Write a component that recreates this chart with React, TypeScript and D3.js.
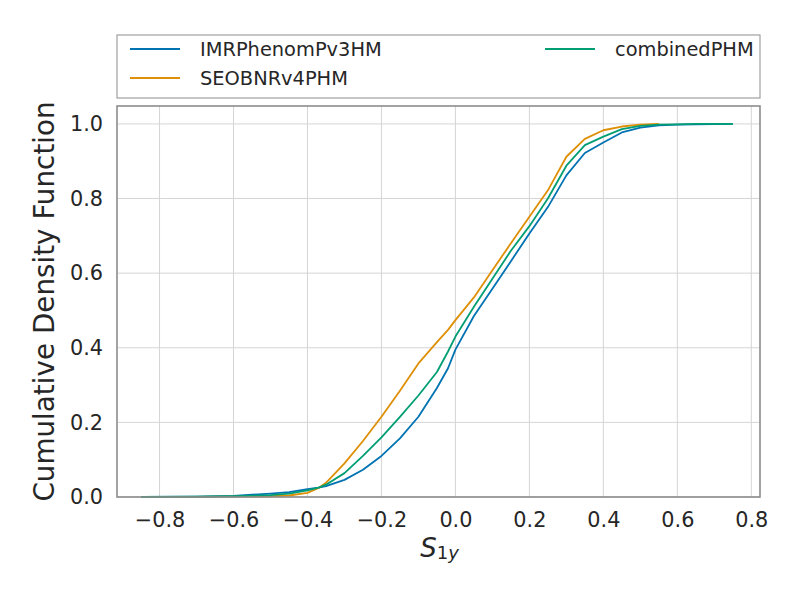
import React, { useEffect, useRef } from "react";
import * as d3 from "d3";

const xs = [
  -0.85, -0.7, -0.6, -0.5, -0.45, -0.4, -0.37, -0.35, -0.3, -0.25, -0.2, -0.15,
  -0.1, -0.05, -0.02, 0.0, 0.05, 0.1, 0.15, 0.2, 0.25, 0.3, 0.35, 0.4, 0.45,
  0.5, 0.55, 0.6, 0.65, 0.75,
];

const imrPhenom = [
  0, 0.001, 0.003, 0.009, 0.013, 0.021, 0.025, 0.029, 0.046, 0.073, 0.11, 0.157,
  0.215, 0.292, 0.345, 0.395, 0.485, 0.558, 0.632, 0.706, 0.777, 0.862, 0.922, 0.95, 0.977,
  0.99, 0.996, 0.998, 0.999, 1.0,
];

const combined = [
  0, 0.001, 0.002, 0.005, 0.009, 0.018, 0.025, 0.033, 0.064, 0.11, 0.16, 0.215,
  0.272, 0.335, 0.39, 0.43, 0.51, 0.585, 0.66, 0.726, 0.8, 0.888, 0.943, 0.966, 0.986,
  0.995, 0.998, 0.999, 1.0, 1.0,
];

// SEOBNR stops earlier, so it only uses the first 27 grid points
const seobnr = [
  0, 0.0005, 0.001, 0.002, 0.004, 0.011, 0.024, 0.038, 0.09, 0.15, 0.215, 0.285,
  0.358, 0.415, 0.448, 0.474, 0.535, 0.608, 0.68, 0.751, 0.822, 0.912, 0.96, 0.983, 0.993,
  0.998, 1.0,
];

const series = [
  { name: "IMRPhenomPv3HM", color: "#0173b2", values: imrPhenom },
  { name: "SEOBNRv4PHM", color: "#de8f05", values: seobnr },
  { name: "combinedPHM", color: "#029e73", values: combined },
];

const xTicks = [-0.8, -0.6, -0.4, -0.2, 0.0, 0.2, 0.4, 0.6, 0.8];
const yTicks = [0.0, 0.2, 0.4, 0.6, 0.8, 1.0];

const W = 800;
const H = 600;
const margin = { top: 106, right: 40, bottom: 103, left: 117 };
const textColor = "#262626";
const font = "DejaVu Sans, sans-serif";

function CdfChart() {
  const svgRef = useRef<SVGSVGElement>(null);

  useEffect(() => {
    const root = d3.select(svgRef.current);
    root.selectAll("*").remove();

    const innerW = W - margin.left - margin.right;
    const innerH = H - margin.top - margin.bottom;

    const x = d3.scaleLinear().domain([-0.915, 0.8235]).range([0, innerW]);
    const y = d3.scaleLinear().domain([0, 1.048]).range([innerH, 0]);

    root.append("rect").attr("width", W).attr("height", H).attr("fill", "#fff");

    const g = root.append("g").attr("transform", `translate(${margin.left},${margin.top})`);

    // grid
    g.append("g")
      .selectAll("line")
      .data(xTicks)
      .join("line")
      .attr("x1", (d) => x(d))
      .attr("x2", (d) => x(d))
      .attr("y1", 0)
      .attr("y2", innerH)
      .attr("stroke", "#d5d5d5")
      .attr("stroke-width", 1);

    g.append("g")
      .selectAll("line")
      .data(yTicks)
      .join("line")
      .attr("x1", 0)
      .attr("x2", innerW)
      .attr("y1", (d) => y(d))
      .attr("y2", (d) => y(d))
      .attr("stroke", "#d5d5d5")
      .attr("stroke-width", 1);

    // curves
    const line = d3
      .line<number>()
      .x((_, i) => x(xs[i]))
      .y((d) => y(d));

    series.forEach((s) => {
      g.append("path")
        .datum(s.values)
        .attr("d", line)
        .attr("fill", "none")
        .attr("stroke", s.color)
        .attr("stroke-width", 1.8)
        .attr("stroke-linejoin", "round");
    });

    // frame
    g.append("rect")
      .attr("width", innerW)
      .attr("height", innerH)
      .attr("fill", "none")
      .attr("stroke", "#8c8c8c")
      .attr("stroke-width", 1.6);

    // axes (labels only, seaborn whitegrid has no tick marks)
    const fmt = d3.format(".1f");
    const xAxis = g
      .append("g")
      .attr("transform", `translate(0,${innerH})`)
      .call(d3.axisBottom(x).tickValues(xTicks).tickFormat((d) => fmt(d as number)).tickSize(0).tickPadding(15.5));
    const yAxis = g
      .append("g")
      .call(d3.axisLeft(y).tickValues(yTicks).tickFormat((d) => fmt(d as number)).tickSize(0).tickPadding(14));

    [xAxis, yAxis].forEach((ax) => {
      ax.select(".domain").remove();
      ax.selectAll("text")
        .attr("fill", textColor)
        .style("font-family", font)
        .style("font-size", "20.8px");
    });

    // y label
    root.append("text")
      .attr("transform", `translate(54,${margin.top + innerH / 2}) rotate(-90)`)
      .attr("text-anchor", "middle")
      .attr("fill", textColor)
      .style("font-family", font)
      .style("font-size", "27.8px")
      .text("Cumulative Density Function");

    // x label: S_{1y}
    const xl = root.append("text")
      .attr("x", margin.left + x(-0.043))
      .attr("y", 556.5)
      .attr("text-anchor", "middle")
      .attr("fill", textColor)
      .style("font-family", font)
      .style("font-size", "26px");
    xl.append("tspan").style("font-style", "italic").text("S");
    xl.append("tspan").attr("dy", 2).style("font-size", "18px").text("1");
    xl.append("tspan").style("font-size", "18px").style("font-style", "italic").text("y");

    // legend
    const leg = root.append("g");
    leg.append("rect")
      .attr("x", 117)
      .attr("y", 35)
      .attr("width", 643)
      .attr("height", 63)
      .attr("fill", "#fff")
      .attr("stroke", "#a0a0a0")
      .attr("stroke-width", 1.2);

    const slots = [
      { sx: 130, sy: 49 },
      { sx: 130, sy: 78 },
      { sx: 545, sy: 49 },
    ];
    series.forEach((s, i) => {
      const { sx, sy } = slots[i];
      leg.append("line")
        .attr("x1", sx)
        .attr("x2", sx + 50)
        .attr("y1", sy)
        .attr("y2", sy)
        .attr("stroke", s.color)
        .attr("stroke-width", 2);
      leg.append("text")
        .attr("x", sx + 70)
        .attr("y", sy + 7)
        .attr("fill", textColor)
        .style("font-family", font)
        .style("font-size", "19.4px")
        .text(s.name);
    });
  }, []);

  return <svg ref={svgRef} width={W} height={H} style={{ display: "block" }} />;
}

export default function App() {
  return (
    <div style={{ margin: -8 }}>
      <CdfChart />
    </div>
  );
}
